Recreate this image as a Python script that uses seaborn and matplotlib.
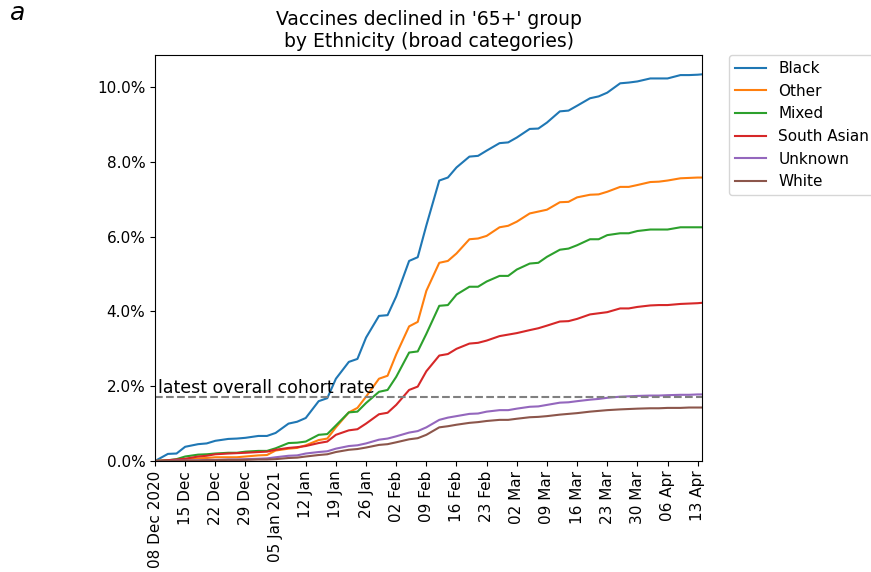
import matplotlib
matplotlib.use('Agg')
import matplotlib.pyplot as plt
from matplotlib.ticker import PercentFormatter
import numpy as np
import pandas as pd
import seaborn as sn

# report dates (Tue / Fri / Sun snapshots)
dates = ['2020-12-08', '2020-12-11', '2020-12-13', '2020-12-15', '2020-12-18', '2020-12-20',
         '2020-12-22', '2020-12-25', '2020-12-27', '2020-12-29', '2021-01-01', '2021-01-03',
         '2021-01-05', '2021-01-08', '2021-01-10', '2021-01-12', '2021-01-15', '2021-01-17',
         '2021-01-19', '2021-01-22', '2021-01-24', '2021-01-26', '2021-01-29', '2021-01-31',
         '2021-02-02', '2021-02-05', '2021-02-07', '2021-02-09', '2021-02-12', '2021-02-14',
         '2021-02-16', '2021-02-19', '2021-02-21', '2021-02-23', '2021-02-26', '2021-02-28',
         '2021-03-02', '2021-03-05', '2021-03-07', '2021-03-09', '2021-03-12', '2021-03-14',
         '2021-03-16', '2021-03-19', '2021-03-21', '2021-03-23', '2021-03-26', '2021-03-28',
         '2021-03-30', '2021-04-02', '2021-04-04', '2021-04-06', '2021-04-09', '2021-04-11',
         '2021-04-13', '2021-04-14']

# % of 65+ group who declined, by ethnicity
black = [0.0, 0.19, 0.2, 0.38, 0.45, 0.47, 0.54, 0.59, 0.6, 0.62, 0.67, 0.67,
         0.75, 1.0, 1.05, 1.15, 1.6, 1.68, 2.2, 2.65, 2.73, 3.3, 3.88, 3.9,
         4.4, 5.35, 5.45, 6.3, 7.5, 7.58, 7.85, 8.14, 8.16, 8.3, 8.5, 8.52,
         8.65, 8.88, 8.89, 9.05, 9.35, 9.37, 9.5, 9.7, 9.75, 9.85, 10.1, 10.12,
         10.15, 10.23, 10.23, 10.23, 10.32, 10.32, 10.33, 10.34]
other = [0.0, 0.02, 0.03, 0.05, 0.07, 0.08, 0.1, 0.1, 0.1, 0.12, 0.15, 0.16,
         0.28, 0.33, 0.35, 0.42, 0.56, 0.6, 0.9, 1.3, 1.42, 1.72, 2.2, 2.28,
         2.85, 3.6, 3.72, 4.55, 5.3, 5.35, 5.55, 5.93, 5.95, 6.02, 6.25, 6.29,
         6.4, 6.62, 6.67, 6.72, 6.92, 6.93, 7.05, 7.12, 7.13, 7.2, 7.33, 7.33,
         7.38, 7.46, 7.47, 7.5, 7.56, 7.57, 7.58, 7.58]
mixed = [0.0, 0.02, 0.05, 0.12, 0.17, 0.18, 0.2, 0.22, 0.22, 0.25, 0.27, 0.27,
         0.34, 0.48, 0.49, 0.52, 0.7, 0.72, 0.95, 1.3, 1.32, 1.55, 1.85, 1.9,
         2.25, 2.9, 2.93, 3.4, 4.15, 4.17, 4.45, 4.66, 4.66, 4.8, 4.95, 4.95,
         5.12, 5.28, 5.3, 5.46, 5.65, 5.68, 5.77, 5.93, 5.93, 6.04, 6.09, 6.09,
         6.15, 6.19, 6.19, 6.19, 6.25, 6.25, 6.25, 6.25]
south_asian = [0.0, 0.02, 0.04, 0.06, 0.12, 0.14, 0.18, 0.2, 0.21, 0.22, 0.24, 0.25,
               0.3, 0.35, 0.37, 0.4, 0.48, 0.52, 0.7, 0.82, 0.85, 1.0, 1.25, 1.29,
               1.5, 1.9, 1.99, 2.4, 2.82, 2.86, 3.0, 3.14, 3.16, 3.22, 3.34, 3.38,
               3.42, 3.5, 3.55, 3.62, 3.73, 3.74, 3.8, 3.92, 3.95, 3.98, 4.08, 4.08,
               4.12, 4.16, 4.17, 4.17, 4.2, 4.21, 4.22, 4.23]
unknown = [0.0, 0.0, 0.01, 0.01, 0.02, 0.03, 0.03, 0.04, 0.04, 0.05, 0.06, 0.07,
           0.1, 0.14, 0.15, 0.2, 0.24, 0.26, 0.33, 0.4, 0.42, 0.47, 0.57, 0.6,
           0.66, 0.76, 0.8, 0.9, 1.1, 1.16, 1.2, 1.26, 1.27, 1.32, 1.36, 1.36,
           1.4, 1.45, 1.46, 1.5, 1.56, 1.57, 1.6, 1.64, 1.66, 1.69, 1.72, 1.73,
           1.74, 1.75, 1.75, 1.76, 1.77, 1.77, 1.78, 1.78]
white = [0.0, 0.0, 0.0, 0.01, 0.01, 0.02, 0.02, 0.03, 0.03, 0.03, 0.04, 0.04,
         0.05, 0.08, 0.09, 0.12, 0.16, 0.18, 0.24, 0.3, 0.32, 0.36, 0.43, 0.45,
         0.5, 0.58, 0.61, 0.7, 0.9, 0.93, 0.97, 1.02, 1.04, 1.07, 1.1, 1.1,
         1.13, 1.17, 1.18, 1.2, 1.24, 1.26, 1.28, 1.32, 1.34, 1.36, 1.38, 1.39,
         1.4, 1.41, 1.41, 1.42, 1.42, 1.43, 1.43, 1.43]

groups = ['Black', 'Other', 'Mixed', 'South Asian', 'Unknown', 'White']
series = [black, other, mixed, south_asian, unknown, white]
cohort_rate = 1.72

tick_dates = ['2020-12-08', '2020-12-15', '2020-12-22', '2020-12-29', '2021-01-05',
              '2021-01-12', '2021-01-19', '2021-01-26', '2021-02-02', '2021-02-09',
              '2021-02-16', '2021-02-23', '2021-03-02', '2021-03-09', '2021-03-16',
              '2021-03-23', '2021-03-30', '2021-04-06', '2021-04-13']
tick_labels = ['08 Dec 2020', '15 Dec', '22 Dec', '29 Dec', '05 Jan 2021', '12 Jan',
               '19 Jan', '26 Jan', '02 Feb', '09 Feb', '16 Feb', '23 Feb', '02 Mar',
               '09 Mar', '16 Mar', '23 Mar', '30 Mar', '06 Apr', '13 Apr']

df = pd.concat([pd.DataFrame({'date': pd.to_datetime(dates), 'pct': s, 'group': g})
                for g, s in zip(groups, series)], ignore_index=True)

fig = plt.figure(figsize=(8.71, 5.72), dpi=100)
ax = fig.add_axes([155 / 871, 1 - 461 / 572, 547 / 871, 406 / 572])

sn.lineplot(data=df, x='date', y='pct', hue='group', hue_order=groups,
            palette=sn.color_palette('tab10', len(groups)), linewidth=1.5, ax=ax)

ax.axhline(cohort_rate, color='grey', linestyle='--', linewidth=1.5)
ax.text(pd.Timestamp(dates[0]) + pd.Timedelta(days=0.7), cohort_rate, 'latest overall cohort rate',
        fontsize=12.5, va='bottom', ha='left')

ax.set_xlim(pd.Timestamp(dates[0]), pd.Timestamp(dates[-1]))
ax.set_ylim(0, max(black) * 1.05)
ax.set_xticks(pd.to_datetime(tick_dates))
ax.set_xticklabels(tick_labels, rotation=90, fontsize=11)
ax.yaxis.set_major_formatter(PercentFormatter(xmax=100, decimals=1))
ax.tick_params(axis='y', labelsize=11)
ax.set_xlabel('')
ax.set_ylabel('')
ax.set_title("Vaccines declined in '65+' group\nby Ethnicity (broad categories)", fontsize=13.5)

handles, labels = ax.get_legend_handles_labels()
ax.legend(handles, labels, loc='upper left', bbox_to_anchor=(1.05, 1.0), borderaxespad=0,
          fontsize=11)

fig.text(0.012, 0.965, 'a', fontsize=18, style='italic')

fig.savefig('out.png', dpi=100)
